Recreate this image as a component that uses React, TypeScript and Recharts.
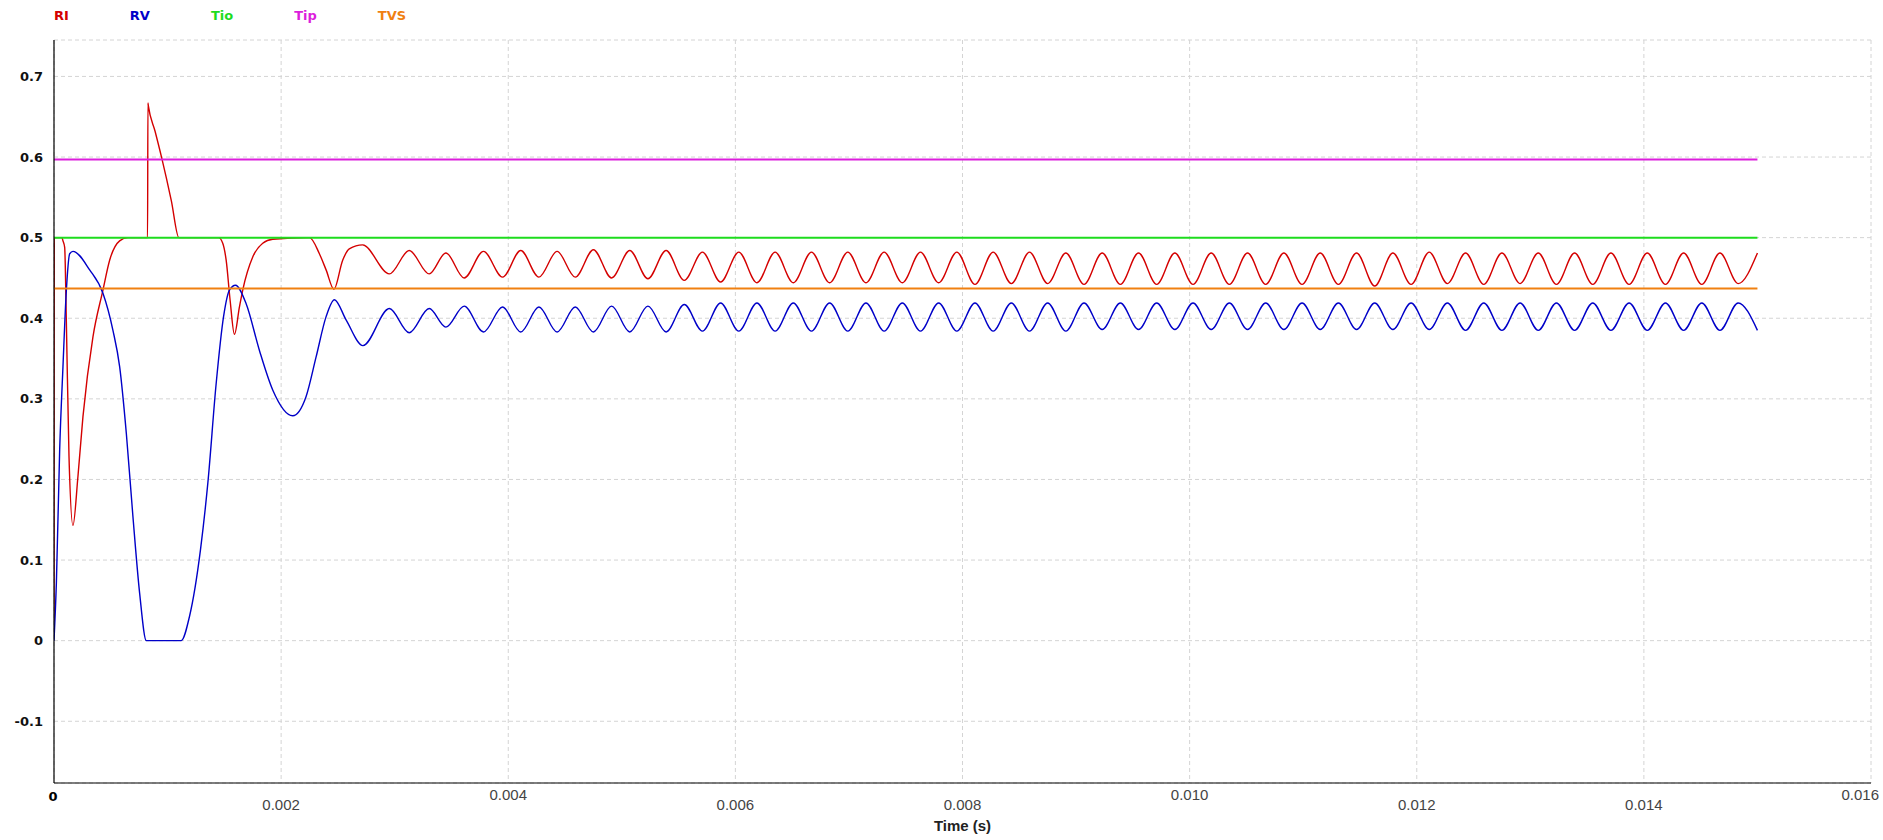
import { LineChart, Line, XAxis, YAxis, CartesianGrid } from "recharts";

// axis ticks
const X_TICKS = [0, 0.002, 0.004, 0.006, 0.008, 0.01, 0.012, 0.014, 0.016];
const Y_TICKS = [-0.1, 0, 0.1, 0.2, 0.3, 0.4, 0.5, 0.6, 0.7];

// constant traces (level, ends at 15 ms)
const END_TIME = 0.015;
const TIO_LEVEL = 0.5;
const TIP_LEVEL = 0.597;
const TVS_LEVEL = 0.437;

// RI start-up transient
const RI_START_TIME = [
  0, 0.000002, 0.00007, 0.000079, 0.000094, 0.000109, 0.000132, 0.000167, 0.000211,
  0.000255, 0.000343, 0.000431, 0.00049, 0.000578, 0.00065, 0.000824, 0.000827, 0.00083,
  0.00089, 0.00095, 0.001033, 0.0011, 0.00145, 0.001486, 0.001516, 0.001551, 0.001589,
  0.001633, 0.001662, 0.00175, 0.001838, 0.001926, 0.00225, 0.002337, 0.002396, 0.002465,
  0.002542, 0.0026, 0.002718, 0.002953, 0.003128, 0.003304, 0.003451, 0.003612, 0.003782,
];
const RI_START = [
  0.024, 0.5, 0.5, 0.496, 0.488, 0.394, 0.229, 0.143, 0.204,
  0.278, 0.377, 0.435, 0.472, 0.496, 0.5, 0.5, 0.667, 0.664,
  0.632, 0.598, 0.546, 0.5, 0.5, 0.493, 0.472, 0.422, 0.38,
  0.414, 0.435, 0.476, 0.493, 0.498, 0.5, 0.48, 0.46, 0.436,
  0.472, 0.486, 0.491, 0.455, 0.484, 0.455, 0.481, 0.45, 0.483,
];

// RV start-up transient
const RV_START_TIME = [
  0, 0.000021, 0.00005, 0.000079, 0.000109, 0.000138, 0.000167, 0.000314, 0.000431,
  0.000519, 0.000578, 0.000637, 0.000695, 0.000754, 0.000813, 0.00112, 0.001193, 0.00129,
  0.001355, 0.001428, 0.001493, 0.001545, 0.001598, 0.001692, 0.001809, 0.001926, 0.002102,
  0.00222, 0.002308, 0.002396, 0.002469, 0.002572, 0.00272, 0.002953, 0.003128, 0.003304,
  0.003451, 0.003612, 0.003782,
];
const RV_START = [
  0, 0.072, 0.237, 0.34, 0.435, 0.48, 0.483, 0.46, 0.431,
  0.385, 0.34, 0.257, 0.154, 0.059, 0, 0, 0.03, 0.113,
  0.196, 0.319, 0.402, 0.435, 0.441, 0.418, 0.36, 0.311, 0.279,
  0.303, 0.352, 0.402, 0.423, 0.398, 0.366, 0.412, 0.382, 0.412,
  0.389, 0.415, 0.383,
];

// steady ripple: turning points
const CYCLE_TIME = [
  0.00395, 0.00411, 0.00427, 0.00443, 0.00459, 0.00475, 0.00491, 0.00507, 0.00523, 0.00539,
  0.00555, 0.00571, 0.00587, 0.00603, 0.00619, 0.00635, 0.00651, 0.00667, 0.00683, 0.00699,
  0.00715, 0.00731, 0.00747, 0.00763, 0.00779, 0.00795, 0.00811, 0.00827, 0.00843, 0.00859,
  0.00875, 0.00891, 0.00907, 0.00923, 0.00939, 0.00955, 0.00971, 0.00987, 0.01003, 0.01019,
  0.01035, 0.01051, 0.01067, 0.01083, 0.01099, 0.01115, 0.01131, 0.01147, 0.01163, 0.01179,
  0.01195, 0.01211, 0.01227, 0.01243, 0.01259, 0.01275, 0.01291, 0.01307, 0.01323, 0.01339,
  0.01355, 0.01371, 0.01387, 0.01403, 0.01419, 0.01435, 0.01451, 0.01467, 0.01483, 0.015,
];
const RI_CYCLE = [
  0.451, 0.484, 0.451, 0.483, 0.451, 0.485, 0.45, 0.484, 0.449, 0.484,
  0.447, 0.482, 0.445, 0.482, 0.444, 0.482, 0.444, 0.482, 0.444, 0.482,
  0.444, 0.482, 0.444, 0.482, 0.444, 0.482, 0.442, 0.482, 0.443, 0.482,
  0.443, 0.481, 0.442, 0.481, 0.442, 0.481, 0.442, 0.481, 0.442, 0.481,
  0.442, 0.481, 0.442, 0.481, 0.442, 0.481, 0.442, 0.481, 0.44, 0.481,
  0.442, 0.482, 0.443, 0.481, 0.442, 0.481, 0.443, 0.481, 0.442, 0.481,
  0.442, 0.481, 0.442, 0.481, 0.442, 0.481, 0.442, 0.481, 0.443, 0.481,
];
const RV_CYCLE = [
  0.414, 0.383, 0.414, 0.383, 0.414, 0.383, 0.415, 0.383, 0.415, 0.383,
  0.417, 0.384, 0.419, 0.384, 0.419, 0.384, 0.419, 0.384, 0.419, 0.384,
  0.419, 0.384, 0.419, 0.384, 0.419, 0.384, 0.419, 0.384, 0.419, 0.384,
  0.419, 0.384, 0.419, 0.386, 0.419, 0.386, 0.419, 0.386, 0.419, 0.386,
  0.419, 0.386, 0.419, 0.386, 0.419, 0.386, 0.419, 0.386, 0.419, 0.386,
  0.419, 0.386, 0.419, 0.385, 0.419, 0.385, 0.419, 0.385, 0.419, 0.385,
  0.419, 0.385, 0.419, 0.385, 0.419, 0.385, 0.419, 0.385, 0.419, 0.385,
];

const toPoints = (time: number[], values: number[]) =>
  time.map((t, i) => ({ t, v: values[i] }));

const flat = (level: number) => [
  { t: 0, v: level },
  { t: END_TIME, v: level },
];

const SERIES = [
  { name: "RI", color: "#d40000", width: 1.4, data: toPoints([...RI_START_TIME, ...CYCLE_TIME], [...RI_START, ...RI_CYCLE]) },
  { name: "RV", color: "#0000c8", width: 1.4, data: toPoints([...RV_START_TIME, ...CYCLE_TIME], [...RV_START, ...RV_CYCLE]) },
  { name: "Tio", color: "#1edc1e", width: 2, data: flat(TIO_LEVEL) },
  { name: "Tip", color: "#dc1edc", width: 2, data: flat(TIP_LEVEL) },
  { name: "TVS", color: "#f08010", width: 2, data: flat(TVS_LEVEL) },
];

const RAISED_TICKS = [0, 0.004, 0.01, 0.016];

function TimeTick({ x, y, payload }: any) {
  const value: number = payload.value;
  const raised = RAISED_TICKS.some((r) => Math.abs(r - value) < 1e-9);
  if (value === 0) {
    return (
      <text x={x - 1} y={y + 18} textAnchor="middle" fontFamily="DejaVu Sans" fontWeight="bold" fontSize={13} fill="#000">
        0
      </text>
    );
  }
  const last = Math.abs(value - 0.016) < 1e-9;
  return (
    <text
      x={last ? x + 8 : x}
      y={y + (raised ? 17 : 27)}
      textAnchor={last ? "end" : "middle"}
      fontFamily="Liberation Sans"
      fontSize={15}
      fill="#444"
    >
      {value.toFixed(3)}
    </text>
  );
}

export default function App() {
  return (
    <div style={{ position: "absolute", left: 0, top: 0, width: 1883, height: 840, background: "#fff" }}>
      <div
        style={{
          position: "absolute",
          left: 54,
          top: 8,
          display: "flex",
          fontFamily: "DejaVu Sans",
          fontWeight: "bold",
          fontSize: 13,
          lineHeight: "16px",
        }}
      >
        {SERIES.map((s) => (
          <span key={s.name} style={{ color: s.color, marginRight: 61 }}>
            {s.name}
          </span>
        ))}
      </div>
      <LineChart width={1883} height={840} margin={{ top: 40, right: 12, bottom: 0, left: 0 }}>
        <CartesianGrid stroke="#d4d4d4" strokeDasharray="4 3" />
        <XAxis
          dataKey="t"
          type="number"
          domain={[0, 0.016]}
          ticks={X_TICKS}
          allowDataOverflow
          height={57}
          tickLine={false}
          tickSize={0}
          tickMargin={0}
          axisLine={{ stroke: "#000", strokeWidth: 1.2 }}
          tick={<TimeTick />}
          interval={0}
          label={{
            value: "Time (s)",
            position: "insideBottom",
            offset: 9,
            style: { fontFamily: "Liberation Sans", fontWeight: "bold", fontSize: 15, fill: "#222" },
          }}
        />
        <XAxis xAxisId="top" orientation="top" type="number" domain={[0, 0.016]} height={0} tick={false} tickLine={false} axisLine={{ stroke: "#000", strokeWidth: 1.2 }} />
        <YAxis
          type="number"
          domain={[-0.1766, 0.7452]}
          ticks={Y_TICKS}
          allowDataOverflow
          width={54}
          tickLine={false}
          tickSize={0}
          tickMargin={11}
          interval={0}
          axisLine={{ stroke: "#000", strokeWidth: 1.2 }}
          tickFormatter={(v: number) => (v === 0 ? "0" : v.toFixed(1))}
          tick={{ fontFamily: "DejaVu Sans", fontWeight: "bold", fontSize: 13, fill: "#111" }}
        />
        <YAxis yAxisId="right" orientation="right" type="number" domain={[-0.1766, 0.7452]} width={0} tick={false} tickLine={false} axisLine={{ stroke: "#000", strokeWidth: 1.2 }} />
        {SERIES.map((s) => (
          <Line
            key={s.name}
            data={s.data}
            dataKey="v"
            name={s.name}
            type="monotone"
            stroke={s.color}
            strokeWidth={s.width}
            dot={false}
            activeDot={false}
            isAnimationActive={false}
          />
        ))}
      </LineChart>
    </div>
  );
}
